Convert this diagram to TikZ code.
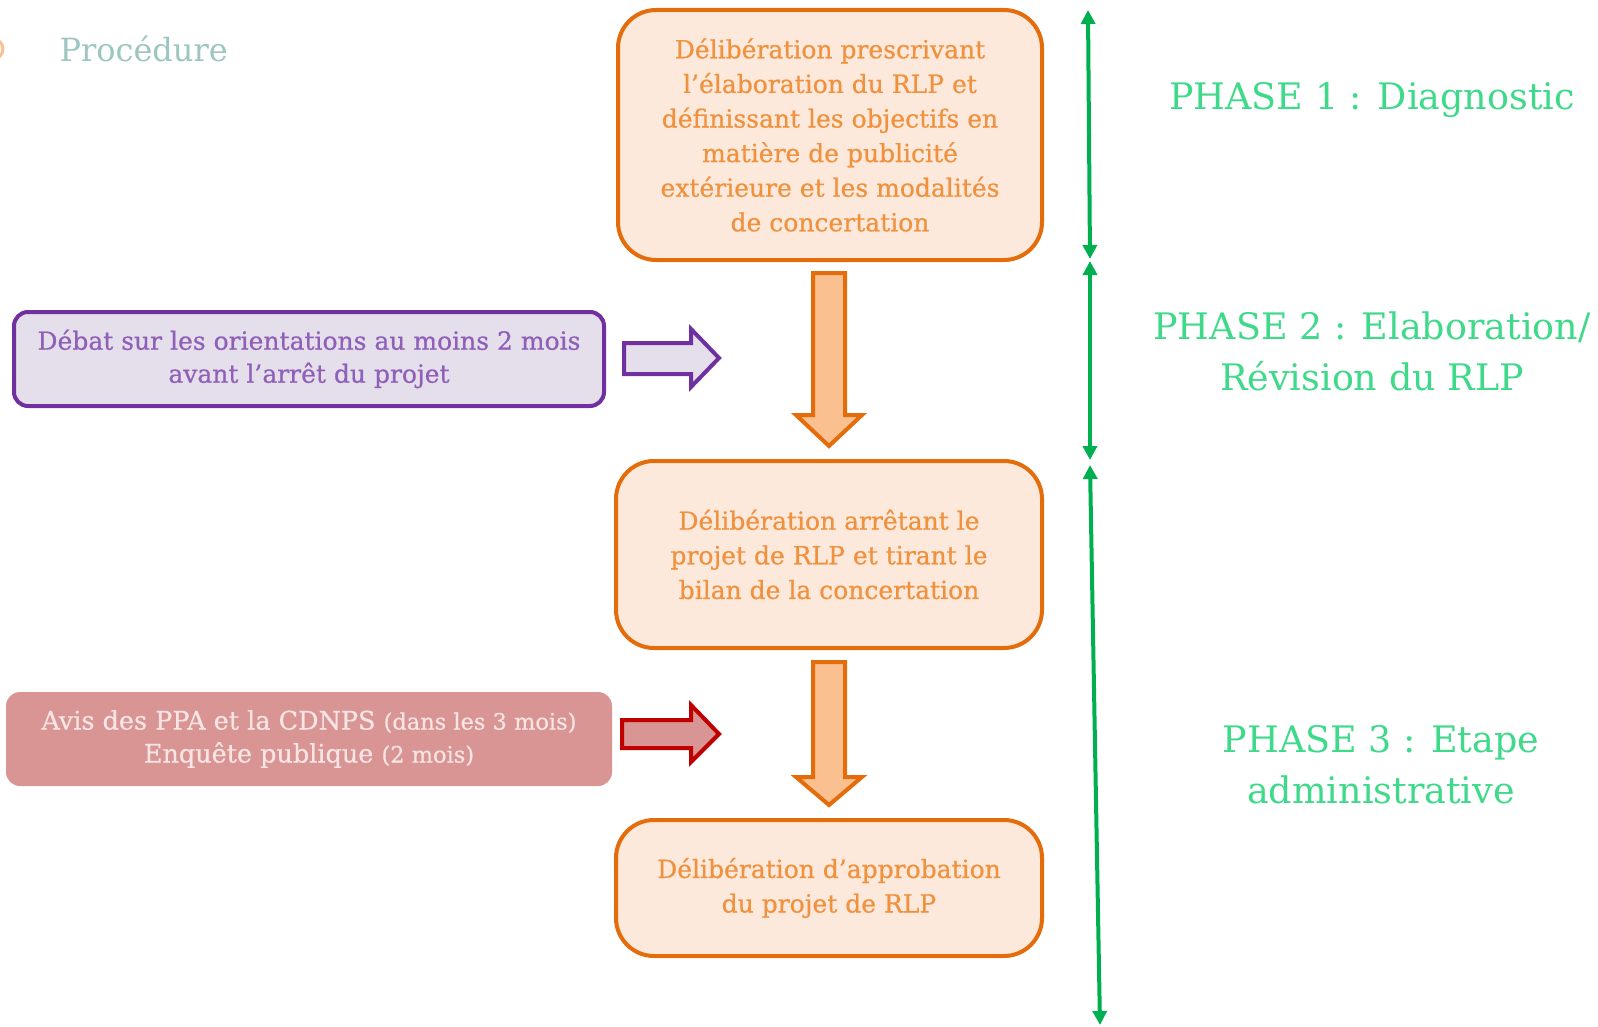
\documentclass[tikz,border=0pt]{standalone}
\usepackage{fontspec}
\setmainfont{DejaVu Serif}
\newfontfamily\medfont{DejaVu Serif}[FakeBold=0.6]
\usetikzlibrary{arrows.meta}
\definecolor{orfill}{HTML}{FDE9DB}
\definecolor{orline}{HTML}{E46C0A}
\definecolor{ortext}{HTML}{F0913E}
\definecolor{orarrow}{HTML}{FAC090}
\definecolor{pufill}{HTML}{E5DFEC}
\definecolor{puline}{HTML}{7030A0}
\definecolor{putext}{HTML}{9060B8}
\definecolor{refill}{HTML}{D99594}
\definecolor{reline}{HTML}{C00000}
\definecolor{retext}{HTML}{F7E4E4}
\definecolor{grline}{HTML}{00B050}
\definecolor{grtext}{HTML}{3FD98A}
\definecolor{titletext}{HTML}{9CC6BF}
\tikzset{
  obox/.style={draw=orline, line width=4pt, fill=orfill, rounded corners=38pt, text=ortext, align=center, font=\medfont\fontsize{25}{34.6}\selectfont, inner sep=0pt},
  pbox/.style={draw=puline, line width=4pt, fill=pufill, rounded corners=14pt, text=putext, align=center, font=\medfont\fontsize{25}{33}\selectfont, inner sep=0pt},
  rbox/.style={fill=refill, rounded corners=14pt, text=retext, align=center, font=\medfont\fontsize{25.5}{33}\selectfont, inner sep=0pt},
  bigarrow/.style={line width=4pt, line join=miter},
  phase/.style={text=grtext, align=center, font=\fontsize{36.5}{51}\selectfont},
  garrow/.style={draw=grline, line width=4pt, {Triangle[length=14pt,width=14pt]}-{Triangle[length=14pt,width=14pt]}},
}
\begin{document}
\begin{tikzpicture}[x=1pt,y=-1pt]
\useasboundingbox (0,0) rectangle (1598,1027);
\begin{scope}
\clip (0,0) rectangle (1598,1027);
\draw[orarrow, line width=3pt] (-7,49) circle (10);
\end{scope}
\node[text=titletext, font=\fontsize{32}{38}\selectfont, anchor=west] (title) at (56,49) {Procédure};
% orange boxes
\node[obox, minimum width=424pt, minimum height=250pt] (b1) at (830,135) {Délibération prescrivant\\l’élaboration du RLP et\\définissant les objectifs en\\matière de publicité\\extérieure et les modalités\\de concertation};
\node[obox, minimum width=426pt, minimum height=187pt] (b2) at (829,554.5) {Délibération arrêtant le\\projet de RLP et tirant le\\bilan de la concertation};
\node[obox, minimum width=426pt, minimum height=136pt] (b3) at (829,888) {Délibération d’approbation\\du projet de RLP};
% side boxes
\node[pbox, minimum width=590pt, minimum height=94pt] (p) at (309,359) {Débat sur les orientations au moins 2 mois\\avant l’arrêt du projet};
\node[rbox, minimum width=606pt, minimum height=94pt] (r) at (309,739) {Avis des PPA et la CDNPS {\fontsize{22.5}{33}\selectfont(dans les 3 mois)}\\Enquête publique {\fontsize{22.5}{33}\selectfont(2 mois)}};
% down arrows
\draw[bigarrow, draw=orline, fill=orarrow] (813,273) -- (845,273) -- (845,415) -- (862,415) -- (829,446) -- (796,415) -- (813,415) -- cycle;
\draw[bigarrow, draw=orline, fill=orarrow] (813,662) -- (845,662) -- (845,777) -- (862,777) -- (829,805) -- (796,777) -- (813,777) -- cycle;
% right arrows
\draw[bigarrow, draw=puline, fill=pufill] (624,343) -- (691,343) -- (691,329) -- (719,358) -- (691,387) -- (691,374) -- (624,374) -- cycle;
\draw[bigarrow, draw=reline, fill=refill] (622,720) -- (691,720) -- (691,705) -- (719,734) -- (691,762) -- (691,748) -- (622,748) -- cycle;
% green phase arrows
\coordinate (g0) at (1088,10);
\coordinate (g1) at (1090,259);
\coordinate (g1b) at (1090,261);
\coordinate (g2) at (1090,460);
\coordinate (g2b) at (1090,465);
\coordinate (g3) at (1100,1025);
\draw[garrow] (g0) -- (g1);
\draw[garrow] (g1b) -- (g2);
\draw[garrow] (g2b) -- (g3);
% phase labels
\node[phase] (ph1) at (1372,100) {PHASE 1 : Diagnostic};
\node[phase] (ph2) at (1372,351) {PHASE 2 : Elaboration/\\Révision du RLP};
\node[phase] (ph3) at (1381,765) {PHASE 3 : Etape\\administrative};
\end{tikzpicture}
\end{document}
